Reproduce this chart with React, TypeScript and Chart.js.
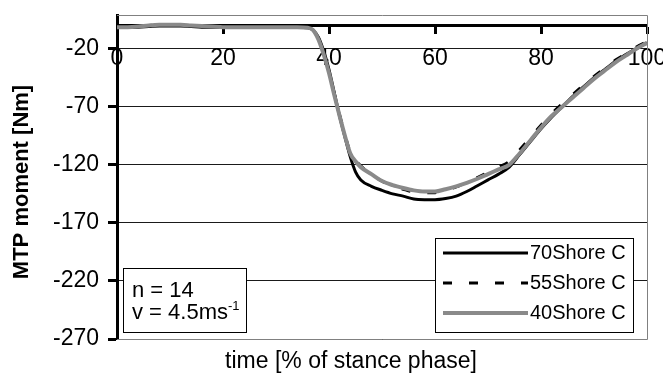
import React, { useEffect, useRef } from "react";
import { Chart, registerables } from "chart.js";

Chart.register(...registerables);

// ---- data ----
const TIME = [
  0, 2, 4, 6, 8, 10, 12, 14, 16, 18, 20, 22, 24, 26, 28, 30, 32, 34, 36,
  37, 38, 39, 40, 41, 42, 43, 44, 45, 46,
  48, 50, 52, 54, 56, 58, 60, 62, 64, 66, 68, 70, 72, 74, 76, 78, 80, 82, 84, 86, 88, 90, 92, 94, 96, 98, 100,
];

const SHORE_70 = [
  -1.5, -1.5, -1.5, -1, -0.5, -0.5, -0.5, -1, -1.5, -1.5, -1.5, -1.5, -1.5, -1.5, -1.5, -1.5, -1.5, -1.5, -2,
  -4, -10, -22, -38, -58, -78, -96, -113, -126, -133,
  -138.5, -142, -145, -147, -149.5, -150, -150, -149, -147, -143, -138, -133, -128, -122, -111, -100, -89, -79, -70, -61, -53, -45, -38, -31, -25, -20, -15,
];

const SHORE_55 = [
  -1.5, -1.5, -1, 0, 0.5, 0.5, 0.5, 0, -0.5, -1, -1.5, -1.5, -1.5, -1.5, -1.5, -1.5, -1.5, -1.5, -1.5,
  -4, -11, -24, -40, -59, -77, -94, -109, -116, -121,
  -128, -134, -138, -141, -143.5, -144, -144, -142, -139, -135, -131, -126.5, -122, -117, -107, -96.5, -86, -76, -67.5, -59.5, -51.5, -44, -37, -30, -24.5, -18.5, -14,
];

const SHORE_40 = [
  -1.5, -1.5, -1, 0, 0.5, 0.5, 0.5, 0, -0.5, -1, -1.5, -1.5, -1.5, -1.5, -1.5, -1.5, -1.5, -1.5, -2,
  -4, -12, -25, -41, -60, -78, -95, -110, -117, -122,
  -128, -134, -137.5, -140, -142, -143, -143, -141, -138.5, -135.5, -132, -128, -124, -120, -110, -99, -88, -78, -70, -62, -54, -46, -39, -32, -26, -20, -15,
];

const SERIES_LABELS = ["70Shore C", "55Shore C", "40Shore C"];
const X_TICKS = [0, 20, 40, 60, 80, 100];
const Y_TICKS = [-270, -220, -170, -120, -70, -20];
const X_TITLE = "time [% of stance phase]";
const Y_TITLE = "MTP moment [Nm]";
const NOTE_N = "n = 14";
const NOTE_V = "v = 4.5ms";
const NOTE_V_SUP = "-1";

const FONT = "'Liberation Sans', Arial, sans-serif";

const overlayPlugin = {
  id: "overlay",
  beforeDatasetsDraw(chart: any) {
    const { ctx, chartArea: a } = chart;
    ctx.save();
    ctx.strokeStyle = "#808080";
    ctx.lineWidth = 1;
    ctx.beginPath();
    ctx.moveTo(a.left, a.top + 0.5);
    ctx.lineTo(a.right + 0.5, a.top + 0.5);
    ctx.lineTo(a.right + 0.5, a.bottom + 0.5);
    ctx.lineTo(a.left, a.bottom + 0.5);
    ctx.stroke();
    ctx.restore();
  },
  afterDatasetsDraw(chart: any) {
    const { ctx } = chart;
    ctx.save();
    // legend box
    const lx = 435, ly = 238, lw = 198, lh = 94;
    ctx.fillStyle = "#fff";
    ctx.fillRect(lx, ly, lw, lh);
    ctx.strokeStyle = "#000";
    ctx.lineWidth = 1;
    ctx.strokeRect(lx + 0.5, ly + 0.5, lw, lh);
    const rows = [253, 283, 313];
    chart.data.datasets.forEach((ds: any, i: number) => {
      const y = rows[i];
      ctx.save();
      ctx.strokeStyle = ds.borderColor;
      ctx.lineWidth = ds.borderWidth;
      ctx.setLineDash(ds.borderDash || []);
      ctx.beginPath();
      ctx.moveTo(443, y);
      ctx.lineTo(528, y);
      ctx.stroke();
      ctx.restore();
      ctx.fillStyle = "#000";
      ctx.font = `20px ${FONT}`;
      ctx.textBaseline = "middle";
      ctx.textAlign = "left";
      ctx.fillText(ds.label, 530, y);
    });
    // note box
    const nx = 123, ny = 268, nw = 123, nh = 64;
    ctx.fillStyle = "#fff";
    ctx.fillRect(nx, ny, nw, nh);
    ctx.strokeStyle = "#000";
    ctx.strokeRect(nx + 0.5, ny + 0.5, nw, nh);
    ctx.fillStyle = "#000";
    ctx.font = `22px ${FONT}`;
    ctx.textBaseline = "middle";
    ctx.textAlign = "left";
    ctx.fillText(NOTE_N, 132, 291);
    ctx.fillText(NOTE_V, 132, 313);
    const w = ctx.measureText(NOTE_V).width;
    ctx.font = `13px ${FONT}`;
    ctx.fillText(NOTE_V_SUP, 132 + w, 306);
    ctx.restore();
  },
  afterDraw(chart: any) {
    const { ctx } = chart;
    ctx.save();
    ctx.fillStyle = "#000";
    ctx.font = `23px ${FONT}`;
    ctx.textAlign = "center";
    ctx.textBaseline = "alphabetic";
    ctx.fillText(X_TITLE, 351, 368);
    ctx.translate(22, 182);
    ctx.rotate(-Math.PI / 2);
    ctx.font = `bold 22px ${FONT}`;
    ctx.textBaseline = "middle";
    ctx.fillText(Y_TITLE, 0, 0);
    ctx.restore();
  },
};

export default function App() {
  const ref = useRef<HTMLCanvasElement | null>(null);

  useEffect(() => {
    document.body.style.margin = "0";
    const canvas = ref.current;
    if (!canvas) return;
    const mk = (vals: number[]) => TIME.map((t, i) => ({ x: t, y: vals[i] }));
    const chart = new Chart(canvas, {
      type: "line",
      data: {
        datasets: [
          {
            label: SERIES_LABELS[0],
            data: mk(SHORE_70),
            borderColor: "#000000",
            borderWidth: 3,
            pointRadius: 0,
            cubicInterpolationMode: "monotone",
            order: 2,
          },
          {
            label: SERIES_LABELS[1],
            data: mk(SHORE_55),
            borderColor: "#000000",
            borderWidth: 3,
            borderDash: [9, 17],
            pointRadius: 0,
            cubicInterpolationMode: "monotone",
            order: 1,
          },
          {
            label: SERIES_LABELS[2],
            data: mk(SHORE_40),
            borderColor: "#8a8a8a",
            borderWidth: 4,
            pointRadius: 0,
            cubicInterpolationMode: "monotone",
            order: 0,
          },
        ],
      },
      options: {
        animation: false,
        responsive: false,
        devicePixelRatio: 1,
        layout: { padding: { top: 15, right: 16, bottom: 38, left: 0 } },
        plugins: {
          legend: { display: false },
          tooltip: { enabled: false },
          title: { display: false },
        },
        scales: {
          x: {
            type: "linear",
            position: { y: 0 } as any,
            min: 0,
            max: 100,
            afterBuildTicks: (s: any) => {
              s.ticks = X_TICKS.map((v) => ({ value: v }));
            },
            afterFit: (s: any) => {
              s.paddingLeft = 0;
              s.paddingRight = 0;
            },
            ticks: {
              autoSkip: false,
              maxRotation: 0,
              padding: 12,
              color: "#000",
              font: { family: FONT, size: 23 },
            },
            grid: {
              display: true,
              drawOnChartArea: false,
              tickLength: 7,
              tickColor: "#000",
              tickWidth: 3,
            },
            border: { display: true, color: "#000", width: 3 },
          },
          y: {
            type: "linear",
            position: "left",
            min: -270,
            max: 9,
            afterBuildTicks: (s: any) => {
              s.ticks = Y_TICKS.map((v) => ({ value: v }));
            },
            afterFit: (s: any) => {
              s.width = 117;
              s.paddingTop = 0;
              s.paddingBottom = 0;
            },
            ticks: {
              padding: 9,
              color: "#000",
              font: { family: FONT, size: 23 },
            },
            grid: {
              display: true,
              drawOnChartArea: true,
              color: "#1a1a1a",
              lineWidth: 1,
              tickLength: 9,
              tickColor: "#000",
              tickWidth: 3,
            },
            border: { display: true, color: "#000", width: 3 },
          },
        },
      },
      plugins: [overlayPlugin],
    } as any);
    return () => chart.destroy();
  }, []);

  return <canvas ref={ref} width={663} height={377} style={{ display: "block" }} />;
}
